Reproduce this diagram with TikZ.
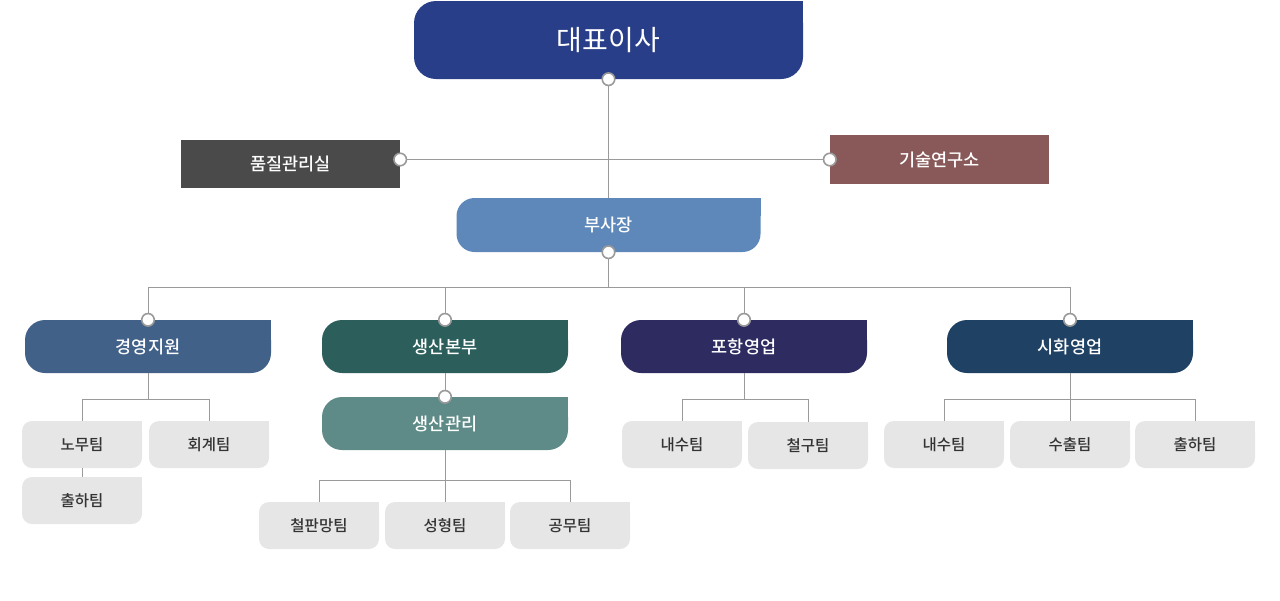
\documentclass[tikz,border=0pt]{standalone}
\usepackage{fontspec}
\newfontfamily\krfont{Noto Sans CJK KR Medium}
\newfontfamily\krlight{Noto Sans CJK KR}
\usepackage{xcolor}
\usepackage{tikz}
\definecolor{ceoblue}{HTML}{283E89}
\definecolor{qagray}{HTML}{4A4A4A}
\definecolor{labred}{HTML}{895959}
\definecolor{vpblue}{HTML}{5D88B9}
\definecolor{msblue}{HTML}{416188}
\definecolor{pdgreen}{HTML}{2C5F5B}
\definecolor{psnavy}{HTML}{2D2B60}
\definecolor{sanavy}{HTML}{1F4164}
\definecolor{pmteal}{HTML}{5E8B87}
\definecolor{teamgray}{HTML}{E6E6E6}
\definecolor{teamtext}{HTML}{333333}
\definecolor{linkgray}{HTML}{9A9A9A}
\tikzset{
  head/.style={fill=#1, text=white, inner sep=0pt, rounded corners=20pt,
    minimum width=246pt, minimum height=53pt, font=\krfont\fontsize{17.5}{20}\selectfont},
  side/.style={fill=#1, text=white, inner sep=0pt,
    minimum width=219pt, minimum height=48pt, font=\krfont\fontsize{17.5}{20}\selectfont},
  team/.style={fill=teamgray, text=teamtext, inner sep=0pt, rounded corners=10pt,
    minimum width=120pt, minimum height=47pt, font=\krfont\fontsize{15.5}{18}\selectfont},
  link/.style={draw=linkgray, line width=1pt},
  dot/.style={circle, fill=white, draw=linkgray, line width=1.6pt, inner sep=0pt, minimum size=12.5pt}
}
\begin{document}
\begin{tikzpicture}[x=1pt,y=-1pt]
  \useasboundingbox (0,0) rectangle (1280,600);

  % top
  \node[head=ceoblue, rounded corners=22pt, minimum width=389pt, minimum height=78pt,
    font=\krlight\fontsize{28}{32}\selectfont] (ceo) at (608.5,40) {대표이사};
  \node[side=qagray] (qa) at (290.5,164) {품질관리실};
  \node[side=labred, minimum height=49pt] (lab) at (939.5,159.5) {기술연구소};
  \node[head=vpblue, rounded corners=18pt, minimum width=304pt, minimum height=54pt] (vp) at (608.5,225) {부사장};

  % divisions
  \node[head=msblue] (ms) at (148,346.5) {경영지원};
  \node[head=pdgreen] (pd) at (445,346.5) {생산본부};
  \node[head=psnavy] (ps) at (744,346.5) {포항영업};
  \node[head=sanavy] (sa) at (1070,346.5) {시화영업};
  \node[head=pmteal] (pm) at (445,423.5) {생산관리};

  % teams
  \node[team] (nomu) at (82,444.5) {노무팀};
  \node[team] (acct) at (209,444.5) {회계팀};
  \node[team] (ship1) at (82,500.5) {출하팀};
  \node[team] (steel) at (319,525.5) {철판망팀};
  \node[team] (form) at (445,525.5) {성형팀};
  \node[team] (works) at (570,525.5) {공무팀};
  \node[team] (dom1) at (682,444.5) {내수팀};
  \node[team] (iron) at (808,445.5) {철구팀};
  \node[team] (dom2) at (944,444.5) {내수팀};
  \node[team] (exp) at (1070,444.5) {수출팀};
  \node[team] (ship2) at (1195,444.5) {출하팀};

  % square top right corners
  \foreach \n/\c/\r in {ceo/ceoblue/22, vp/vpblue/18, ms/msblue/20, pd/pdgreen/20,
      ps/psnavy/20, sa/sanavy/20, pm/pmteal/20}
    \fill[\c] (\n.north east) rectangle ([xshift=-\r pt, yshift=-\r pt]\n.north east);
  \foreach \n in {nomu,acct,ship1,steel,form,works,dom1,iron,dom2,exp,ship2}
    \fill[teamgray] (\n.north east) rectangle ([xshift=-10pt, yshift=-10pt]\n.north east);

  % connectors
  \coordinate (bus) at ([yshift=-35pt]vp.south);
  \coordinate (qaend) at (qa.east |- lab.west);
  \draw[link] (ceo.south) -- (vp.north);
  \draw[link] (qaend) -- (lab.west);
  \draw[link] (vp.south) -- (bus);
  \draw[link] (ms.north |- bus) -- (sa.north |- bus);
  \foreach \n in {ms,pd,ps,sa}
    \draw[link] (\n.north) -- (\n.north |- bus);

  \coordinate (msbus) at ([yshift=-26pt]ms.south);
  \draw[link] (ms.south) -- (msbus);
  \draw[link] (nomu.north) |- (msbus) -| (acct.north);
  \draw[link] (nomu.south) -- (ship1.north);

  \draw[link] (pd.south) -- (pm.north);
  \coordinate (pmbus) at ([yshift=-30pt]pm.south);
  \draw[link] (pm.south) -- (form.north);
  \draw[link] (steel.north) |- (pmbus) -| (works.north);

  \coordinate (psbus) at ([yshift=-26pt]ps.south);
  \draw[link] (ps.south) -- (psbus);
  \draw[link] (dom1.north) |- (psbus) -| (iron.north);

  \coordinate (sabus) at ([yshift=-26pt]sa.south);
  \draw[link] (sa.south) -- (exp.north);
  \draw[link] (dom2.north) |- (sabus) -| (ship2.north);

  % joints
  \foreach \p in {ceo.south, qaend, lab.west, vp.south, ms.north, pd.north, ps.north, sa.north, pm.north}
    \node[dot] at (\p) {};
\end{tikzpicture}
\end{document}
